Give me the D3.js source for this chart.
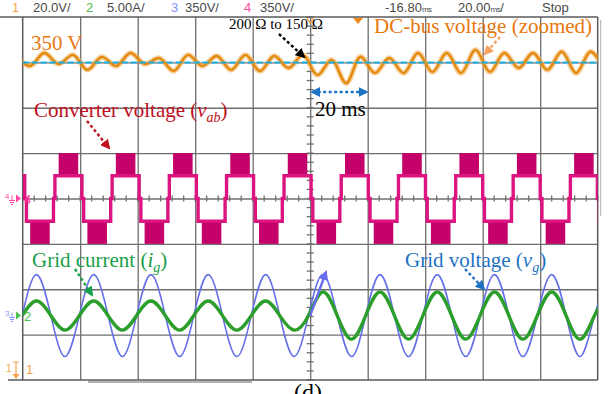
<!DOCTYPE html>
<html>
<head>
<meta charset="utf-8">
<script src="https://cdn.jsdelivr.net/npm/d3@7"></script>
<style>
  body { margin: 0; background: #fff; }
  svg { display: block; }
  .hdr { font-family: "Liberation Sans", Arial, sans-serif; font-size: 13px; fill: #4a4a4a; }
  .ann { font-family: "Liberation Serif", "Times New Roman", serif; font-size: 21px; }
</style>
</head>
<body>
<svg id="scope" width="611" height="394"></svg>
<script>
// ---- data (time in ms, 0 = load step) ----
const gridT = [-100.2, -95.2, -90.2, -85.3, -80.3, -75.3, -70.3, -65.3, -60.4, -55.4, -50.4, -45.4,
  -40.5, -35.5, -30.5, -25.5, -20.5, -15.5, -10.6, -5.6, -0.6, 4.4, 9.4, 14.4, 19.3, 24.3, 29.3,
  34.2, 39.2, 44.2, 49.2, 54.1, 59.1, 64.1, 69.1, 74.0, 79.0, 84.0, 89.0, 93.9, 98.9, 103.9];
// grid voltage vg (V), ch3 350 V/div
const gridVoltage = [0, 316, 0, -316, 0, 316, 0, -316, 0, 316, 0, -316, 0, 316, 0, -316, 0, 316, 0, -316,
  0, 316, 0, -316, 0, 316, 0, -316, 0, 316, 0, -316, 0, 316, 0, -316, 0, 316, 0, -316, 0, 316];
// grid current ig (A), ch2 5 A/div
const gridCurrent = [0, 1.6, 0, -1.6, 0, 1.6, 0, -1.6, 0, 1.6, 0, -1.6, 0, 1.6, 0, -1.6, 0, 1.6, 0, -1.6,
  0, 2.6, 0, -2.6, 0, 2.6, 0, -2.6, 0, 2.6, 0, -2.6, 0, 2.6, 0, -2.6, 0, 2.6, 0, -2.6, 0, 2.6];

// dc-bus voltage ripple extremes (V), ch1 20 V/div zoomed around 350 V
const dcT = [-102.5, -97.5, -92.5, -87.5, -82.5, -77.5, -72.5, -67.5, -62.5, -57.5, -52.5, -47.5,
  -42.5, -37.5, -32.5, -27.5, -22.5, -17.5, -12.5, -7.5, -2.5, 2.5, 7.5, 12.5, 17.5, 22.5, 27.5,
  32.5, 37.5, 42.5, 47.5, 52.5, 57.5, 62.5, 67.5, 72.5, 77.5, 82.5, 87.5, 92.5, 97.5, 102.5];
const dcVoltage = [353.3, 348.4, 354.1, 349.3, 353.3, 346.7, 352.4, 348.4, 354.1, 349.3, 351.9, 346.2,
  353.3, 348.4, 352.8, 346.7, 353.3, 346.2, 352.8, 347.5, 353.3, 344.4, 351.1, 340.8, 352.5, 345.3,
  351.9, 345.3, 354.1, 345.8, 354.1, 345.3, 355.5, 345.8, 354.1, 347.5, 354.1, 346.7, 354.7, 345.3,
  354.7, 346.7];
const dcRef = 350;

// converter voltage vab: centre of each positive top block (ms) and the shape of one period
const vabTopCenters = [-104.0, -84.1, -64.2, -44.3, -24.4, -4.4, 15.5, 35.4, 55.3, 75.3, 95.2];
const vabShape = [[-4.7, 0], [-4.7, 175], [4.7, 175], [4.7, 0], [5.3, 0], [5.3, -175], [14.7, -175], [14.7, 0]];
const vabBlocks = [[-3.4, 3.4, 175, 350], [6.6, 13.4, -175, -350]];

const headerItems = [
  {text: "1", x: 12, color: "#f5a14e"}, {text: "20.0V/", x: 33},
  {text: "2", x: 86, color: "#4cc04c"}, {text: "5.00A/", x: 107},
  {text: "3", x: 171, color: "#8793ff"}, {text: "350V/", x: 185},
  {text: "4", x: 244, color: "#ff4aa5"}, {text: "350V/", x: 260},
  {text: "Stop", x: 542}
];

// ---- layout ----
const plot = {left: 22.7, right: 597.7, top: 17, bottom: 380};
const x = d3.scaleLinear().domain([-100, 100]).range([plot.left, plot.right]);
const yDiv = d3.scaleLinear().domain([-4, 4]).range([plot.bottom, plot.top]);

const ch = {
  dc:  {offset: 3, perDiv: 20},
  ig:  {offset: -2.58, perDiv: 5},
  vg:  {offset: -2.58, perDiv: 350},
  vab: {offset: 0, perDiv: 350}
};
const yCh = (c, v) => yDiv(c.offset + v / c.perDiv);

const svg = d3.select("#scope");
const defs = svg.append("defs");
defs.append("clipPath").attr("id", "clip")
  .append("rect")
  .attr("x", plot.left).attr("y", plot.top)
  .attr("width", plot.right - plot.left).attr("height", plot.bottom - plot.top);

function arrowMarker(id, color) {
  defs.append("marker")
    .attr("id", id).attr("viewBox", "0 0 10 10")
    .attr("refX", 8).attr("refY", 5)
    .attr("markerWidth", 10).attr("markerHeight", 10)
    .attr("markerUnits", "userSpaceOnUse")
    .attr("orient", "auto-start-reverse")
    .append("path").attr("d", "M0,0 L10,5 L0,10 z").attr("fill", color);
}
arrowMarker("arBlack", "#000");
arrowMarker("arOrange", "#f5a060");
arrowMarker("arRed", "#c0101e");
arrowMarker("arGreen", "#17a04a");
arrowMarker("arBlue", "#1d72c4");
arrowMarker("arViolet", "#6a6cf0");

// ---- header ----
headerItems.forEach(d => {
  svg.append("text").attr("class", "hdr").attr("x", d.x).attr("y", 12)
    .style("fill", d.color || "#4a4a4a").text(d.text);
});
const hPos = svg.append("text").attr("class", "hdr").attr("x", 385).attr("y", 12);
hPos.append("tspan").text("-16.80");
hPos.append("tspan").style("font-size", "8px").attr("letter-spacing", "-0.5").text("ms");
const hScale = svg.append("text").attr("class", "hdr").attr("x", 458).attr("y", 12);
hScale.append("tspan").text("20.00");
hScale.append("tspan").style("font-size", "8px").attr("letter-spacing", "-0.5").text("ms");
hScale.append("tspan").text("/");

// ---- grid ----
const grid = svg.append("g").attr("stroke", "#6e6e6e").attr("stroke-width", 1.3);
const xGrid = d3.axisTop(x).tickValues(d3.range(-80, 100, 20)).tickSize(-(plot.bottom - plot.top)).tickFormat("");
const yGrid = d3.axisLeft(yDiv).tickValues(d3.range(-3, 4, 1)).tickSize(-(plot.right - plot.left)).tickFormat("");
svg.append("g").attr("transform", `translate(0,${plot.top})`).call(xGrid)
  .call(g => g.select(".domain").remove())
  .selectAll("line").attr("stroke", "#6e6e6e").attr("stroke-width", 1.3);
svg.append("g").attr("transform", `translate(${plot.left},0)`).call(yGrid)
  .call(g => g.select(".domain").remove())
  .selectAll("line").attr("stroke", "#6e6e6e").attr("stroke-width", 1.3);

// minor ticks on the centre cross
const xMinor = d3.range(-100, 100.1, 4);
const yMinor = d3.range(-4, 4.01, 0.2);
grid.selectAll(".xm").data(xMinor).join("line")
  .attr("x1", d => x(d)).attr("x2", d => x(d))
  .attr("y1", yDiv(0) - 3).attr("y2", yDiv(0) + 3);
grid.selectAll(".ym").data(yMinor).join("line")
  .attr("y1", d => yDiv(d)).attr("y2", d => yDiv(d))
  .attr("x1", x(0) - 3.5).attr("x2", x(0) + 3.5);

// border
svg.append("line").attr("x1", 0).attr("x2", plot.right).attr("y1", plot.top).attr("y2", plot.top)
  .attr("stroke", "#5a5a5a").attr("stroke-width", 1.5);
svg.append("line").attr("x1", 8).attr("x2", plot.right).attr("y1", plot.bottom).attr("y2", plot.bottom)
  .attr("stroke", "#5a5a5a").attr("stroke-width", 1.5);
svg.append("line").attr("x1", plot.left).attr("x2", plot.left).attr("y1", plot.top).attr("y2", plot.bottom)
  .attr("stroke", "#5a5a5a").attr("stroke-width", 1.5);
svg.append("line").attr("x1", plot.right).attr("x2", plot.right).attr("y1", plot.top).attr("y2", plot.bottom)
  .attr("stroke", "#5a5a5a").attr("stroke-width", 1.5);
svg.append("line").attr("x1", 600.7).attr("x2", 600.7).attr("y1", 20).attr("y2", 216)
  .attr("stroke", "#bbb").attr("stroke-width", 1.2);
svg.append("line").attr("x1", 88).attr("x2", 252).attr("y1", 382).attr("y2", 382)
  .attr("stroke", "#999").attr("stroke-width", 1.5);

// ---- traces ----
const traces = svg.append("g").attr("clip-path", "url(#clip)");

const gridPts = gridT.map((t, i) => ({t, vg: gridVoltage[i], ig: gridCurrent[i]}));
traces.append("path").datum(gridPts)
  .attr("fill", "none").attr("stroke", "#6670e8").attr("stroke-width", 1.6)
  .attr("d", d3.line().x(d => x(d.t)).y(d => yCh(ch.vg, d.vg)).curve(d3.curveNatural));
traces.append("path").datum(gridPts)
  .attr("fill", "none").attr("stroke", "#2c9e2c").attr("stroke-width", 3.4)
  .attr("d", d3.line().x(d => x(d.t)).y(d => yCh(ch.ig, d.ig)).curve(d3.curveNatural));

// converter voltage
const vabPts = vabTopCenters.flatMap(c => vabShape.map(([dt, v]) => [c + dt, v]));
traces.selectAll(".blk")
  .data(vabTopCenters.flatMap(c => vabBlocks.map(b => ({c, b}))))
  .join("rect")
  .attr("x", d => x(d.c + d.b[0]))
  .attr("width", d => x(d.c + d.b[1]) - x(d.c + d.b[0]))
  .attr("y", d => Math.min(yCh(ch.vab, d.b[2]), yCh(ch.vab, d.b[3])))
  .attr("height", d => Math.abs(yCh(ch.vab, d.b[2]) - yCh(ch.vab, d.b[3])))
  .attr("fill", "#c4006a");
traces.append("path").datum(vabPts)
  .attr("fill", "none").attr("stroke", "#dc1480").attr("stroke-width", 3.4)
  .attr("d", d3.line().x(d => x(d[0])).y(d => yCh(ch.vab, d[1])));

// dc bus
const dcPts = dcT.map((t, i) => [t, dcVoltage[i]]);
const dcLine = d3.line().x(d => x(d[0])).y(d => yCh(ch.dc, d[1] - dcRef)).curve(d3.curveCatmullRom);
traces.append("path").datum(dcPts)
  .attr("fill", "none").attr("stroke", "#f0aa50").attr("stroke-width", 5.5).attr("opacity", 0.55)
  .attr("d", dcLine);
traces.append("path").datum(dcPts)
  .attr("fill", "none").attr("stroke", "#e38a0c").attr("stroke-width", 2.4)
  .attr("d", dcLine);
svg.append("line")
  .attr("x1", plot.left).attr("x2", plot.right)
  .attr("y1", yCh(ch.dc, 0)).attr("y2", yCh(ch.dc, 0))
  .attr("stroke", "#18b0e6").attr("stroke-width", 2).attr("stroke-dasharray", "6,3");

// ---- channel markers ----
function marker(y, small, smallColor, label, labelColor, tri) {
  const g = svg.append("g");
  g.append("text").attr("x", 5).attr("y", y).style("font", "8px 'Liberation Sans'")
    .style("fill", smallColor).text(small);
  g.append("path").attr("d", `M12,${y - 3}V${y + 2}M9,${y + 2}H15M10,${y + 4}H14M11,${y + 6}H13`)
    .attr("stroke", smallColor).attr("stroke-width", 1).attr("fill", "none");
  if (tri) g.append("path").attr("d", `M16,${y - 4}L21,${y}L16,${y + 4}z`).attr("fill", labelColor);
  g.append("text").attr("x", 24).attr("y", y + 5).style("font", "13px 'Liberation Sans'")
    .style("fill", labelColor).text(label);
}
marker(yDiv(0), "4", "#ff4aa5", "4", "#ff4aa5", true);
marker(yCh(ch.ig, 0), "3", "#8793ff", "2", "#4cc04c", true);
// ch1 offset is off-screen, arrow points down
svg.append("text").attr("x", 6).attr("y", 372).style("font", "10px 'Liberation Sans'").style("fill", "#f5a14e").text("1");
svg.append("path").attr("d", "M13,362H19M16,362V375").attr("stroke", "#f5a14e").attr("stroke-width", 1.2).attr("fill", "none");
svg.append("path").attr("d", "M12.5,374L19.5,374L16,379z").attr("fill", "#f5a14e");
svg.append("text").attr("x", 26).attr("y", 374).style("font", "13px 'Liberation Sans'").style("fill", "#f5a14e").text("1");

// trigger / position markers at the top
svg.append("path").attr("d", `M${x(0) - 3.5},18L${x(0)},23L${x(0) + 3.5},18`)
  .attr("stroke", "#f09a40").attr("stroke-width", 1.3).attr("fill", "none");
svg.append("path").attr("d", "M353,18L363,18L358,24z").attr("fill", "#f08a20");

// ---- annotations ----
function arrow(x1, y1, x2, y2, color, id, dash, both) {
  const l = svg.append("line").attr("x1", x1).attr("y1", y1).attr("x2", x2).attr("y2", y2)
    .attr("stroke", color).attr("stroke-width", 2.4).attr("stroke-dasharray", dash)
    .attr("marker-end", `url(#${id})`);
  if (both) l.attr("marker-start", `url(#${id})`);
}

svg.append("text").attr("class", "ann").attr("x", 31).attr("y", 50).style("fill", "#e8770e").text("350 V");
svg.append("text").attr("class", "ann").attr("x", 229).attr("y", 28.5).style("font-size", "15px")
  .style("fill", "#000").text("200 Ω to 150 Ω");
arrow(279, 34, 304, 57, "#000", "arBlack", "3,2.5");

svg.append("text").attr("class", "ann").attr("x", 374).attr("y", 33).style("fill", "#e8770e")
  .text("DC-bus voltage (zoomed)");
arrow(500, 37, 485, 54, "#f5a060", "arOrange", "3,2.5");

svg.append("text").attr("class", "ann").attr("x", 315).attr("y", 116).style("fill", "#000").text("20 ms");
arrow(x(0) + 2, 92, x(20) - 1, 92, "#1d72c4", "arBlue", "3,2.5", true);

const conv = svg.append("text").attr("class", "ann").attr("x", 34).attr("y", 117).style("fill", "#c0101e");
conv.append("tspan").text("Converter voltage (");
conv.append("tspan").style("font-style", "italic").text("v");
conv.append("tspan").style("font-style", "italic").style("font-size", "14px").attr("dy", 5).text("ab");
conv.append("tspan").attr("dy", -5).text(")");
arrow(87, 121, 109, 148, "#c0101e", "arRed", "3,2.5");

const cur = svg.append("text").attr("class", "ann").attr("x", 32).attr("y", 267).style("fill", "#17a04a");
cur.append("tspan").text("Grid current (");
cur.append("tspan").style("font-style", "italic").text("i");
cur.append("tspan").style("font-style", "italic").style("font-size", "14px").attr("dy", 5).text("g");
cur.append("tspan").attr("dy", -5).text(")");
arrow(75, 269, 92, 295, "#17a04a", "arGreen", "3,2.5");

const vol = svg.append("text").attr("class", "ann").attr("x", 405).attr("y", 267).style("fill", "#1d72c4");
vol.append("tspan").text("Grid voltage (");
vol.append("tspan").style("font-style", "italic").text("v");
vol.append("tspan").style("font-style", "italic").style("font-size", "14px").attr("dy", 5).text("g");
vol.append("tspan").attr("dy", -5).text(")");
arrow(465, 269, 484, 289, "#1d72c4", "arBlue", "3,2.5");

// violet pointer on the grid voltage right after the step
arrow(310, 316, 326, 272, "#6a6cf0", "arViolet", null);

// panel label, cut by the bottom edge as in the original figure
svg.append("text").attr("class", "ann").attr("x", 294).attr("y", 400).style("font-size", "24px")
  .style("fill", "#000").text("(d)");
</script>
</body>
</html>
